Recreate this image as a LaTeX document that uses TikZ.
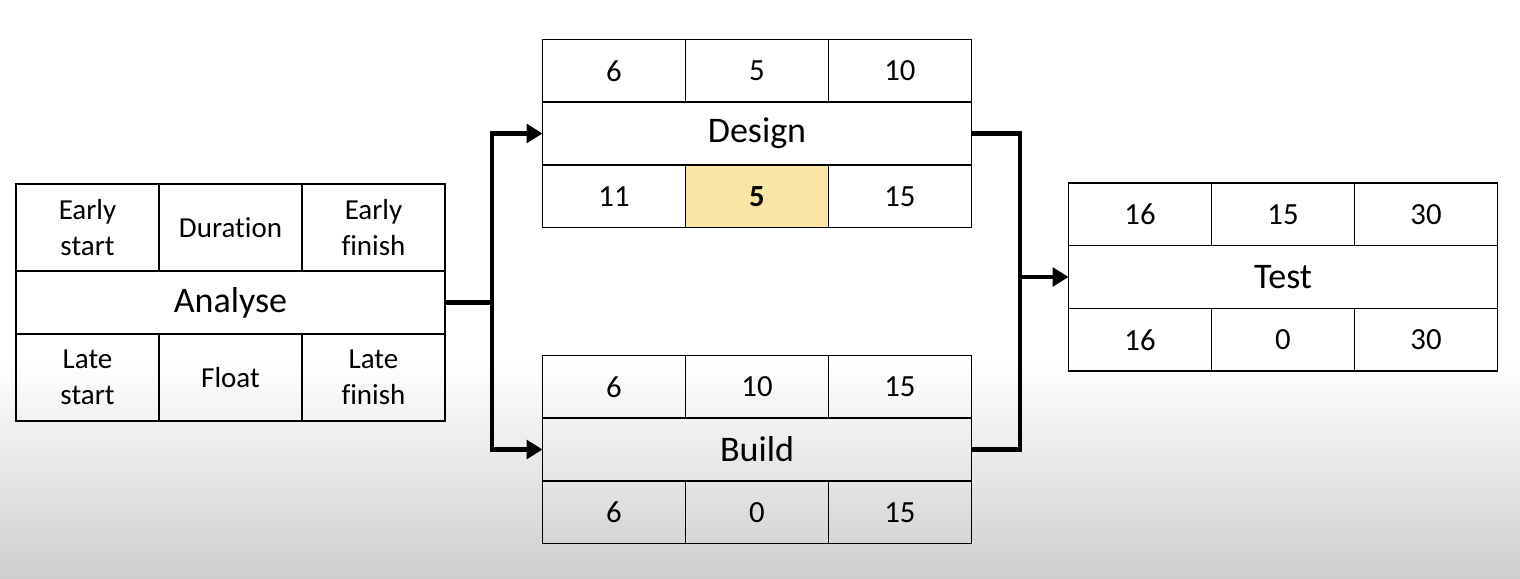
\documentclass[tikz,border=0pt]{standalone}
\usepackage{fontspec}
\setmainfont{Carlito}[Ligatures=NoCommon]
\usetikzlibrary{positioning,arrows.meta}
\definecolor{critical}{HTML}{FBE5A5}

\tikzset{
  cell/.style={draw, rectangle, line width=0.8pt, outer sep=0pt, inner sep=0pt,
    minimum width=2.86cm, minimum height=1.25cm, font=\fontsize{17.5}{20}\selectfont},
  tallcell/.style={cell, minimum height=1.74cm, align=center, font=\fontsize{16.5}{20.5}\selectfont},
  task/.style={cell, minimum width=8.58cm, minimum height=1.26cm, font=\fontsize{20.5}{24}\selectfont},
  flow/.style={line width=2.8pt, line join=miter},
  link/.style={flow, -{Triangle[length=9pt, width=10.5pt]}}
}

\begin{document}
\begin{tikzpicture}[x=0.02cm, y=-0.02cm]
  % background
  \fill[white] (0,0) rectangle (1520,578);
  \shade[top color=white, bottom color=black!19] (0,360) rectangle (1520,578);
  \useasboundingbox (0,0) rectangle (1520,578);

  % Analyse (legend box)
  \node[task] (analyse) at (230.5,302.5) {Analyse};
  \node[tallcell, above right=0pt and 0pt of analyse.north west] (aes) {Early\\start};
  \node[tallcell, right=0pt of aes] (adur) {Duration};
  \node[tallcell, right=0pt of adur] (aef) {Early\\finish};
  \node[tallcell, below right=0pt and 0pt of analyse.south west] (als) {Late\\start};
  \node[tallcell, right=0pt of als] (aflt) {Float};
  \node[tallcell, right=0pt of aflt] (alf) {Late\\finish};

  % Design
  \node[task] (design) at (757,133.5) {Design};
  \node[cell, above right=0pt and 0pt of design.north west] (des) {6};
  \node[cell, right=0pt of des] (ddur) {5};
  \node[cell, right=0pt of ddur] (def) {10};
  \node[cell, below right=0pt and 0pt of design.south west] (dls) {11};
  \node[cell, fill=critical, right=0pt of dls] (dflt) {\bfseries 5};
  \node[cell, right=0pt of dflt] (dlf) {15};

  % Build
  \node[task] (build) at (757,449.5) {Build};
  \node[cell, above right=0pt and 0pt of build.north west] (bes) {6};
  \node[cell, right=0pt of bes] (bdur) {10};
  \node[cell, right=0pt of bdur] (bef) {15};
  \node[cell, below right=0pt and 0pt of build.south west] (bls) {6};
  \node[cell, right=0pt of bls] (bflt) {0};
  \node[cell, right=0pt of bflt] (blf) {15};

  % Test
  \node[task] (test) at (1283,277) {Test};
  \node[cell, above right=0pt and 0pt of test.north west] (tes) {16};
  \node[cell, right=0pt of tes] (tdur) {15};
  \node[cell, right=0pt of tdur] (tef) {30};
  \node[cell, below right=0pt and 0pt of test.south west] (tls) {16};
  \node[cell, right=0pt of tls] (tflt) {0};
  \node[cell, right=0pt of tflt] (tlf) {30};

  % connectors
  \coordinate (split) at (492,302.5);
  \coordinate (merge) at (1020,277);
  \draw[flow] (analyse.east) -- (split);
  \draw[link] (split) |- (design.west);
  \draw[link] (split) |- (build.west);
  \draw[flow] (design.east) -| (merge) |- (build.east);
  \draw[link] (merge) -- (test.west);
\end{tikzpicture}
\end{document}
